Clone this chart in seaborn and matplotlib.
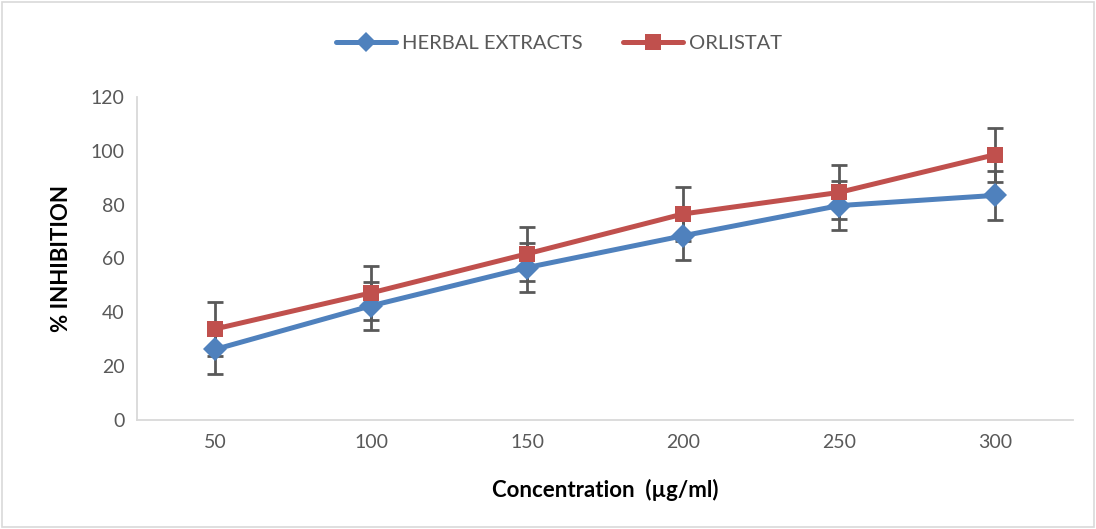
import matplotlib
matplotlib.use("Agg")
import matplotlib.pyplot as plt
import seaborn as sns
import pandas as pd
import numpy as np
from matplotlib.lines import Line2D
from matplotlib.patches import Rectangle

categories = ["50", "100", "150", "200", "250", "300"]
herbal = [26.2, 42.4, 56.6, 68.4, 79.6, 83.4]
herbal_err = [9, 9, 9, 9, 9, 9]
orlistat = [33.8, 47.2, 61.7, 76.5, 84.5, 98.5]
orlistat_err = [10, 10, 10, 10, 10, 10]
series_names = ["HERBAL EXTRACTS", "ORLISTAT"]
y_ticks = [0, 20, 40, 60, 80, 100, 120]

sns.set_theme(style="white")
plt.rcParams['font.family'] = ['Lato', 'DejaVu Sans']

BLUE = "#4F81BD"
RED = "#C0504D"
ERR = "#595959"

fig = plt.figure(figsize=(10.96, 5.29), dpi=100)
ax = fig.add_axes([0.125, 0.206, 0.854, 0.611])

pos = np.arange(len(categories))
df = pd.DataFrame({
    "pos": np.concatenate([pos, pos]),
    "val": herbal + orlistat,
    "series": [series_names[0]] * len(categories) + [series_names[1]] * len(categories),
})

for vals, errs, col in [(herbal, herbal_err, BLUE), (orlistat, orlistat_err, RED)]:
    ax.errorbar(pos, vals, yerr=errs, fmt="none", ecolor=ERR, elinewidth=2,
                capsize=6, capthick=2, zorder=2)

sns.lineplot(data=df, x="pos", y="val", hue="series", style="series",
             palette={series_names[0]: BLUE, series_names[1]: RED},
             markers={series_names[0]: "D", series_names[1]: "s"},
             dashes=False, linewidth=3.6, markersize=12, markeredgewidth=0,
             legend=False, ax=ax, zorder=3)

ax.set_xlim(-0.5, len(categories) - 0.5)
ax.set_ylim(0, 120)
ax.set_yticks(y_ticks)
ax.set_yticklabels([str(t) for t in y_ticks], fontsize=14, color="#595959")
ax.set_xticks(pos)
ax.set_xticklabels(categories, fontsize=14, color="#595959")
ax.tick_params(axis="x", pad=10, length=0)
ax.tick_params(axis="y", pad=9, length=0)

for s in ["top", "right"]:
    ax.spines[s].set_visible(False)
for s in ["left", "bottom"]:
    ax.spines[s].set_color("#D9D9D9")
    ax.spines[s].set_linewidth(1.3)

ax.set_xlabel("Concentration  (µg/ml)", fontsize=16, fontweight="bold", color="black", labelpad=20)
ax.set_ylabel("% INHIBITION", fontsize=16, fontweight="bold", color="black", labelpad=13)

handles = [
    Line2D([0], [0], color=BLUE, marker="D", lw=3.6, markersize=10, markeredgewidth=0),
    Line2D([0], [0], color=RED, marker="s", lw=3.6, markersize=11, markeredgewidth=0),
]
leg = fig.legend(handles, series_names, loc="center", bbox_to_anchor=(0.51, 0.917), ncol=2,
                 frameon=False, fontsize=14.5, handlelength=3.0, columnspacing=2.0,
                 handletextpad=0.3)
for t in leg.get_texts():
    t.set_color("#595959")

fig.patches.append(Rectangle((0.002, 0.003), 0.996, 0.994, transform=fig.transFigure,
                             fill=False, edgecolor="#D9D9D9", linewidth=1.2))

fig.savefig("out.png", dpi=100)
